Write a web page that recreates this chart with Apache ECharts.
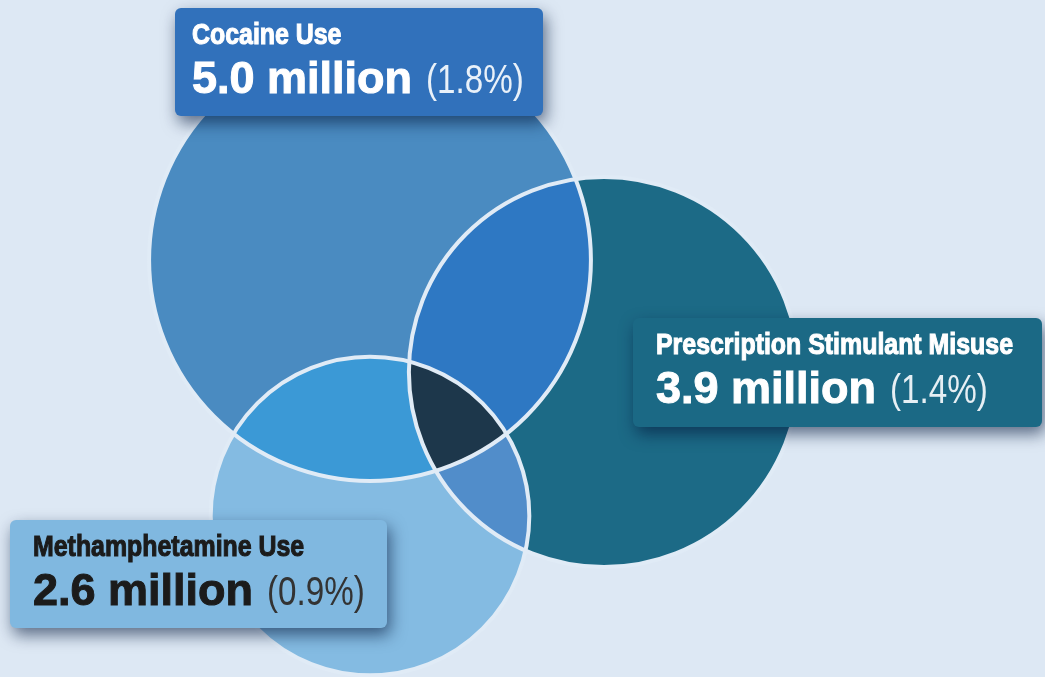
<!DOCTYPE html>
<html>
<head>
<meta charset="utf-8">
<script src="https://cdn.jsdelivr.net/npm/echarts@6/dist/echarts.min.js"></script>
<style>
  html, body { margin: 0; padding: 0; background: #dde8f4; }
  #chart { width: 1045px; height: 677px; }
</style>
</head>
<body>
<div id="chart"></div>
<script>
// data
const categories = ['Cocaine Use', 'Prescription Stimulant Misuse', 'Methamphetamine Use'];
const usersMillions = [5.0, 3.9, 2.6];
const percentUsing = [1.8, 1.4, 0.9];
// regions to shade, as index lists into categories (singles, pairs, all three)
const overlapSets = [[0], [1], [2], [0, 1], [0, 2], [1, 2], [0, 1, 2]];

// layout (axis units = pixels of the 1045x677 canvas)
const centers = [[370, 260], [604, 372], [370, 516]];
const radiusPerSqrtMillion = 98.8;   // circle area follows the number of users
const regionColors = ['#4a8bc1', '#1c6a86', '#84bbe2', '#2e78c3', '#3b99d6', '#518dca', '#1d374b'];
const boxes = [[175, 8, 368, 108], [633, 318, 409, 109], [10, 520, 377, 108]];
const textIndent = [17, 23, 23];
const boxColors = ['#3171bb', '#1b6985', '#80b8e0'];
const textColors = ['#ffffff', '#ffffff', '#1b1b1b'];
const pctColors = ['#e9f1f9', '#e6eff4', '#333333'];

const FONT = '"Liberation Sans", Arial, sans-serif';
const NARROW = 0.83;   // no narrow face installed, squeeze the regular one

const chart = echarts.init(document.getElementById('chart'));
const measureCtx = document.createElement('canvas').getContext('2d');

function textWidth(text, font) {
    measureCtx.font = font;
    return measureCtx.measureText(text).width;
}

function circlesPx(api) {
    return centers.map((c, i) => {
        const p = api.coord(c);
        const r = api.size([radiusPerSqrtMillion * Math.sqrt(usersMillions[i]), 0])[0];
        return { x: p[0], y: p[1], r: r };
    });
}

function insideAll(x, y, set, circles, skip) {
    return set.every(j => skip.includes(j) ||
        Math.hypot(x - circles[j].x, y - circles[j].y) <= circles[j].r + 0.01);
}

// boundary of the intersection of some circles (a convex shape)
function overlapPolygon(set, circles) {
    const pts = [];
    set.forEach(i => {
        const c = circles[i];
        for (let k = 0; k < 1440; k++) {
            const a = k / 1440 * Math.PI * 2;
            const x = c.x + c.r * Math.cos(a);
            const y = c.y + c.r * Math.sin(a);
            if (insideAll(x, y, set, circles, [i])) pts.push([x, y]);
        }
    });
    for (let m = 0; m < set.length; m++) {
        for (let n = m + 1; n < set.length; n++) {
            const c1 = circles[set[m]], c2 = circles[set[n]];
            const dx = c2.x - c1.x, dy = c2.y - c1.y;
            const d = Math.hypot(dx, dy);
            const a = (c1.r * c1.r - c2.r * c2.r + d * d) / (2 * d);
            const h = Math.sqrt(Math.max(0, c1.r * c1.r - a * a));
            const mx = c1.x + a * dx / d, my = c1.y + a * dy / d;
            [[mx - h * dy / d, my + h * dx / d], [mx + h * dy / d, my - h * dx / d]].forEach(p => {
                if (insideAll(p[0], p[1], set, circles, [set[m], set[n]])) pts.push(p);
            });
        }
    }
    let cx = 0, cy = 0;
    pts.forEach(p => { cx += p[0]; cy += p[1]; });
    cx /= pts.length; cy /= pts.length;
    pts.sort((p, q) => Math.atan2(p[1] - cy, p[0] - cx) - Math.atan2(q[1] - cy, q[0] - cx));
    return pts;
}

function renderRegion(params, api) {
    const circles = circlesPx(api);
    const set = overlapSets[params.dataIndex];
    const color = regionColors[params.dataIndex];
    if (set.length === 1) {
        const c = circles[set[0]];
        return { type: 'circle', shape: { cx: c.x, cy: c.y, r: c.r }, style: { fill: color } };
    }
    return { type: 'polygon', shape: { points: overlapPolygon(set, circles) }, style: { fill: color } };
}

function renderOutline(params, api) {
    const c = circlesPx(api)[params.dataIndex];
    return {
        type: 'circle',
        shape: { cx: c.x, cy: c.y, r: c.r },
        style: { fill: 'none', stroke: '#e0ebf6', lineWidth: 4 }
    };
}

function renderLabel(params, api) {
    const i = params.dataIndex;
    const b = boxes[i];
    const p = api.coord([b[0], b[1]]);
    const s = api.size([b[2], b[3]]);
    const tx = p[0] + textIndent[i];
    const valueText = usersMillions[i].toFixed(1) + ' million';
    const valueW = textWidth(valueText, 'bold 45px ' + FONT);
    return {
        type: 'group',
        children: [
            {
                type: 'rect',
                shape: { x: p[0], y: p[1], width: s[0], height: s[1], r: 6 },
                style: {
                    fill: boxColors[i],
                    shadowBlur: 16,
                    shadowColor: 'rgba(5, 25, 60, 0.6)',
                    shadowOffsetX: 3,
                    shadowOffsetY: 7
                }
            },
            {
                type: 'text',
                x: tx,
                y: p[1] + 28,
                scaleX: NARROW,
                style: {
                    text: categories[i],
                    fill: textColors[i],
                    stroke: textColors[i],
                    lineWidth: 1.1,
                    fontFamily: FONT,
                    fontWeight: 'bold',
                    fontSize: 30,
                    align: 'left',
                    verticalAlign: 'middle'
                }
            },
            {
                type: 'text',
                x: tx,
                y: p[1] + 73,
                style: {
                    text: valueText,
                    fill: textColors[i],
                    stroke: textColors[i],
                    lineWidth: 1,
                    fontFamily: FONT,
                    fontWeight: 'bold',
                    fontSize: 45,
                    align: 'left',
                    verticalAlign: 'middle'
                }
            },
            {
                type: 'text',
                x: tx + valueW + 14,
                y: p[1] + 74,
                scaleX: NARROW,
                style: {
                    text: '(' + percentUsing[i].toFixed(1) + '%)',
                    fill: pctColors[i],
                    fontFamily: FONT,
                    fontWeight: 'normal',
                    fontSize: 40,
                    align: 'left',
                    verticalAlign: 'middle'
                }
            }
        ]
    };
}

chart.setOption({
    backgroundColor: '#dde8f4',
    animation: false,
    grid: { left: 0, right: 0, top: 0, bottom: 0 },
    xAxis: { type: 'value', min: 0, max: 1045, show: false },
    yAxis: { type: 'value', min: 0, max: 677, inverse: true, show: false },
    series: [
        {
            type: 'custom',
            z: 1,
            renderItem: renderRegion,
            data: overlapSets.map((s, i) => [i, 0])
        },
        {
            type: 'custom',
            z: 2,
            renderItem: renderOutline,
            data: categories.map((c, i) => [i, 0])
        },
        {
            type: 'custom',
            z: 3,
            renderItem: renderLabel,
            data: categories.map((c, i) => [i, 0])
        }
    ]
});

window.addEventListener('resize', () => chart.resize());
</script>
</body>
</html>
